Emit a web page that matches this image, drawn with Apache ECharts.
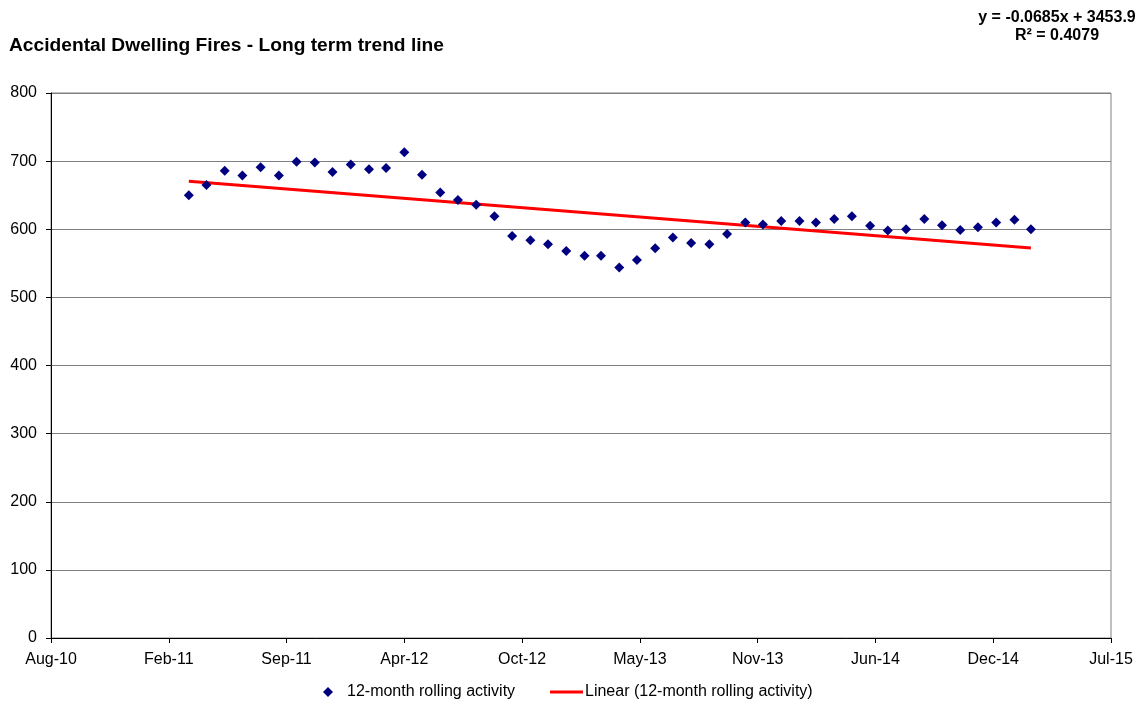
<!DOCTYPE html>
<html>
<head>
<meta charset="utf-8">
<script src="https://cdn.jsdelivr.net/npm/echarts@6/dist/echarts.min.js"></script>
<style>
  html, body { margin: 0; padding: 0; background: #fff; }
  #chart { width: 1145px; height: 704px; }
</style>
</head>
<body>
<div id="chart"></div>
<script>
// Monthly points of the 12-month rolling count (first day of each month)
const months = [
  '2011-04','2011-05','2011-06','2011-07','2011-08','2011-09','2011-10','2011-11','2011-12',
  '2012-01','2012-02','2012-03','2012-04','2012-05','2012-06','2012-07','2012-08','2012-09',
  '2012-10','2012-11','2012-12','2013-01','2013-02','2013-03','2013-04','2013-05','2013-06',
  '2013-07','2013-08','2013-09','2013-10','2013-11','2013-12','2014-01','2014-02','2014-03',
  '2014-04','2014-05','2014-06','2014-07','2014-08','2014-09','2014-10','2014-11','2014-12',
  '2015-01','2015-02','2015-03'
];
const rollingActivity = [
  650, 665, 686, 679, 691, 679, 699, 698, 684,
  695, 688, 690, 713, 680, 654, 643, 636, 619,
  590, 584, 578, 568, 561, 561, 544, 555, 572,
  588, 580, 578, 593, 610, 607, 612, 612, 610,
  615, 619, 605, 598, 600, 615, 606, 599, 603,
  610, 614, 600
];

// Linear fit as stated on the chart (x = spreadsheet date serial)
const trendSlope = -0.0685;
const trendIntercept = 3453.9;
const trendLabel = ['y = -0.0685x + 3453.9', 'R\u00b2 = 0.4079'];

const monthNames = ['Jan','Feb','Mar','Apr','May','Jun','Jul','Aug','Sep','Oct','Nov','Dec'];
const EPOCH = Date.UTC(1899, 11, 30);
const DAY = 86400000;

function toSerial(ym) {
  const [y, m] = ym.split('-').map(Number);
  return Math.round((Date.UTC(y, m - 1, 1) - EPOCH) / DAY);
}
function serialLabel(v) {
  const d = new Date(EPOCH + v * DAY);
  return monthNames[d.getUTCMonth()] + '-' + String(d.getUTCFullYear()).slice(2);
}

const xs = months.map(toSerial);
const points = xs.map((x, i) => [x, rollingActivity[i]]);
const xFirst = xs[0], xLast = xs[xs.length - 1];
const trend = [
  [xFirst, trendSlope * xFirst + trendIntercept],
  [xLast, trendSlope * xLast + trendIntercept]
];

const FONT = '"Liberation Sans", Arial, sans-serif';
const chart = echarts.init(document.getElementById('chart'), null, { renderer: 'canvas' });

chart.setOption({
  animation: false,
  backgroundColor: '#ffffff',
  textStyle: { fontFamily: FONT },
  title: {
    text: 'Accidental Dwelling Fires - Long term trend line',
    left: 9, top: 36, padding: 0,
    textStyle: { fontFamily: FONT, fontSize: 19.2, fontWeight: 'bold', color: '#000' }
  },
  graphic: [
    { type: 'text', x: 1057, y: 10,
      style: { text: trendLabel[0], textAlign: 'center', font: 'bold 16px ' + FONT, fill: '#000' } },
    { type: 'text', x: 1057, y: 28,
      style: { text: trendLabel[1], textAlign: 'center', font: 'bold 16px ' + FONT, fill: '#000' } }
  ],
  grid: {
    left: 51, right: 34, top: 93, bottom: 66,
    show: true, borderColor: '#808080', borderWidth: 1, backgroundColor: '#fff'
  },
  legend: [
    {
      data: ['12-month rolling activity'],
      left: 323, top: 684, padding: 0,
      icon: 'diamond', itemWidth: 10, itemHeight: 10, itemGap: 10,
      itemStyle: { opacity: 1 },
      textStyle: { fontFamily: FONT, fontSize: 16, color: '#000', padding: [0, 0, 0, 9] }
    },
    {
      data: ['Linear (12-month rolling activity)'],
      left: 550, top: 684, padding: 0,
      icon: 'rect', itemWidth: 33, itemHeight: 3,
      textStyle: { fontFamily: FONT, fontSize: 16, color: '#000', padding: [0, 0, 0, -3] }
    }
  ],
  xAxis: {
    type: 'value',
    min: 40400, max: 42200, interval: 200,
    axisLine: { show: true, onZero: false, lineStyle: { color: '#000', width: 1 } },
    axisTick: { show: true, length: 5, lineStyle: { color: '#000' } },
    axisLabel: {
      formatter: serialLabel, margin: 14,
      fontFamily: FONT, fontSize: 16, color: '#000'
    },
    splitLine: { show: false }
  },
  yAxis: {
    type: 'value',
    min: 0, max: 800, interval: 100,
    axisLine: { show: true, lineStyle: { color: '#000', width: 1 } },
    axisTick: { show: true, length: 5, lineStyle: { color: '#000' } },
    axisLabel: { margin: 14, fontFamily: FONT, fontSize: 16, color: '#000' },
    splitLine: { show: true, lineStyle: { color: '#808080', width: 1 } }
  },
  series: [
    {
      name: '12-month rolling activity',
      type: 'scatter',
      data: points,
      symbol: 'diamond',
      symbolSize: 10,
      itemStyle: { color: '#000080', opacity: 1 },
      z: 3
    },
    {
      name: 'Linear (12-month rolling activity)',
      type: 'line',
      data: trend,
      symbol: 'none',
      lineStyle: { color: '#ff0000', width: 3 },
      itemStyle: { color: '#ff0000' },
      z: 2
    }
  ]
});
</script>
</body>
</html>
